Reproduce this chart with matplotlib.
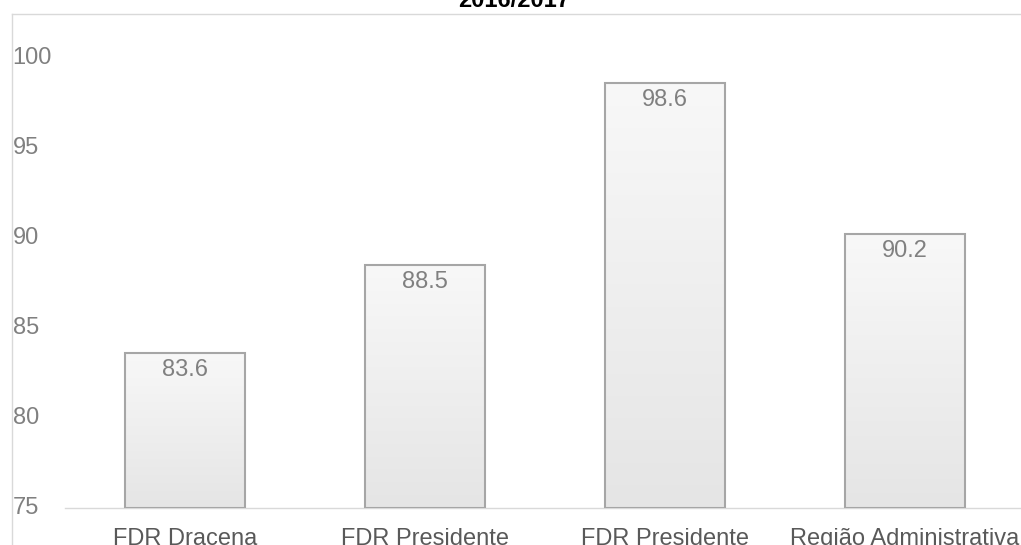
import numpy as np
import matplotlib.pyplot as plt
from matplotlib.colors import LinearSegmentedColormap
from matplotlib.lines import Line2D
from matplotlib.transforms import blended_transform_factory

plt.rcParams['font.family'] = ['Liberation Sans', 'DejaVu Sans']

categories = ['FDR Dracena', 'FDR Presidente\nPrudente', 'FDR Presidente\nVenceslau',
              'Região Administrativa\nde Presidente Prudente']
values = [83.6, 88.5, 98.6, 90.2]
yticks = [75, 80, 85, 90, 95, 100]
title = '2016/2017¹'

W, H = 1021, 545
fig = plt.figure(figsize=(W / 100, H / 100), dpi=100)

# borda da area do grafico (so esquerda e topo, o resto foi cortado)
fig.add_artist(Line2D([12 / W, 12 / W], [0, 1 - 14 / H], color='#d9d9d9', lw=1))
fig.add_artist(Line2D([12 / W, 1], [1 - 14 / H, 1 - 14 / H], color='#d9d9d9', lw=1))

ax = fig.add_axes([65 / W, 37 / H, 960 / W, 450 / H])
for s in ['top', 'right', 'left']:
    ax.spines[s].set_visible(False)
ax.spines['bottom'].set_color('#d9d9d9')
ax.spines['bottom'].set_linewidth(1)
ax.set_yticks([])
ax.set_xticks([])

cmap = LinearSegmentedColormap.from_list('g', ['#e5e5e5', '#f8f8f8'])
grad = np.linspace(0, 1, 256).reshape(-1, 1)
x = np.arange(len(values))
bars = ax.bar(x, [v - 75 for v in values], bottom=75, width=0.5,
              facecolor='none', edgecolor='#a6a6a6', linewidth=1.5, zorder=3)
for b, v in zip(bars, values):
    im = ax.imshow(grad, cmap=cmap, origin='lower', aspect='auto',
                   extent=[b.get_x(), b.get_x() + b.get_width(), 75, v], zorder=2)
    im.set_clip_path(b)
    ax.text(b.get_x() + b.get_width() / 2, v - 1.25, f'{v:.1f}', ha='center', va='baseline',
            fontsize=17, color='#808080', zorder=4)
ax.set_xlim(-0.5, len(values) - 0.5)
ax.set_ylim(75, 100)

# rotulos do eixo y alinhados a esquerda na borda
tr = blended_transform_factory(fig.transFigure, ax.transData)
for t in yticks:
    ax.text(12.5 / W, t, str(t), transform=tr, ha='left', va='center',
            fontsize=17, color='#808080', clip_on=False)

# rotulos das categorias (segunda linha fica cortada)
for xi, c in zip(x, categories):
    ax.text(xi, 75 - 1.11, c, ha='center', va='top', fontsize=17, color='#595959',
            linespacing=1.6, clip_on=False)

fig.text(518 / W, 1 + 11 / H, title, ha='center', va='top', fontsize=17,
         fontweight='bold', color='black')

fig.savefig('out.png', dpi=100)
